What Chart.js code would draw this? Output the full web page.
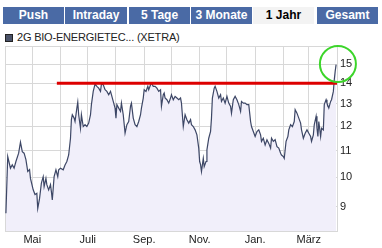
<!DOCTYPE html>
<html>
<head>
<meta charset="utf-8">
<script src="https://cdn.jsdelivr.net/npm/chart.js@4.4.0/dist/chart.umd.min.js"></script>
<style>
body { margin: 0; width: 382px; height: 248px; background: #fff; overflow: hidden; position: relative; font-family: "Liberation Sans", Arial, sans-serif; }
.tab { position: absolute; top: 7px; height: 17px; width: 61px; background: #4a6aa5; color: #fff; font-weight: bold; font-size: 12px; line-height: 17px; text-align: center; }
.tab.active { background: #f3f3f3; color: #000; }
.legend { position: absolute; left: 5px; top: 30px; font-size: 11px; letter-spacing: -0.2px; color: #222; line-height: 14px; }
.legend span { display: inline-block; width: 6px; height: 6px; background: #4a5268; border: 1px solid #222; margin-right: 4px; vertical-align: -1px; }
#wrap { position: absolute; left: 0; top: 42px; width: 382px; height: 206px; }
</style>
</head>
<body>
<div class="tab" style="left:3px">Push</div>
<div class="tab" style="left:65px;width:62px">Intraday</div>
<div class="tab" style="left:129px">5 Tage</div>
<div class="tab" style="left:191px">3 Monate</div>
<div class="tab active" style="left:253px">1 Jahr</div>
<div class="tab" style="left:317px">Gesamt</div>
<div class="legend"><span></span>2G BIO-ENERGIETEC... (XETRA)</div>
<div id="wrap"><canvas id="chart"></canvas></div>
<script>
// Kursdaten: Tage seit 1. April, Schlusskurse (EUR)
const priceDays = [1, 3, 6, 8, 10, 12, 15, 17, 19, 21, 23, 25, 27, 28, 31, 33, 35, 36, 38, 40,
    42, 43, 45, 46, 48, 50, 51, 52, 53, 54, 56, 58, 59, 61, 64, 66, 68, 70, 72, 73,
    74, 76, 77, 79, 80, 81, 83, 84, 86, 88, 90, 92, 94, 95, 97, 99, 101, 103, 105, 106,
    108, 110, 112, 114, 116, 117, 119, 121, 122, 123, 125, 127, 128, 130, 132, 134, 136, 138, 139, 141,
    143, 145, 147, 149, 150, 152, 153, 155, 157, 158, 160, 161, 163, 165, 167, 169, 171, 172, 174, 175,
    176, 178, 180, 182, 183, 185, 187, 189, 191, 193, 194, 196, 198, 200, 202, 204, 205, 207, 209, 211,
    213, 214, 215, 216, 218, 219, 221, 222, 224, 226, 227, 228, 230, 231, 233, 235, 237, 238, 240, 242,
    244, 246, 248, 249, 251, 253, 255, 257, 259, 260, 262, 264, 266, 268, 270, 271, 273, 275, 277, 279,
    281, 282, 284, 286, 288, 290, 292, 293, 295, 297, 299, 301, 303, 304, 306, 307, 309, 311, 312, 314,
    316, 318, 319, 321, 323, 325, 326, 328, 330, 332, 334, 336, 337, 339, 340, 342, 343, 344, 345, 347,
    348, 350, 351, 353, 354, 356, 358, 359, 361, 362, 363, 364];
const prices = [8.79, 10.77, 10.33, 10.46, 10.33, 10.58, 10.90, 11.34, 10.96, 10.90, 10.65, 10.21, 10.28, 9.96, 9.56, 9.40, 9.44, 8.94, 9.27, 9.79,
    10.02, 9.67, 9.96, 9.74, 9.56, 9.74, 9.50, 9.22, 9.61, 10.02, 10.27, 10.02, 10.27, 10.33, 10.27, 10.45, 10.58, 10.83, 11.50, 12.29,
    12.51, 12.36, 12.21, 12.81, 13.09, 12.51, 11.92, 12.51, 11.99, 12.07, 11.99, 12.14, 12.51, 12.97, 13.60, 13.96, 13.85, 13.76, 13.60, 13.96,
    13.93, 13.68, 13.60, 13.44, 13.60, 13.44, 13.12, 12.81, 12.36, 12.97, 12.81, 12.66, 13.04, 12.51, 11.71, 12.07, 12.21, 12.90, 13.04, 12.36,
    12.07, 11.99, 12.21, 12.51, 12.81, 13.28, 13.68, 13.60, 13.85, 13.68, 13.93, 14.01, 13.85, 13.85, 13.76, 13.60, 13.68, 12.89, 13.44, 13.52,
    13.28, 13.20, 13.04, 13.28, 13.44, 13.20, 13.36, 13.28, 13.20, 13.28, 13.04, 11.99, 12.51, 12.29, 12.14, 12.29, 12.07, 11.99, 11.85, 11.64,
    11.10, 10.58, 10.46, 10.21, 10.70, 10.39, 10.58, 11.03, 11.50, 11.78, 12.36, 13.28, 13.76, 13.85, 13.60, 13.28, 13.44, 13.12, 13.28, 13.04,
    13.36, 13.04, 12.89, 12.58, 13.20, 13.36, 13.20, 12.97, 12.66, 13.12, 13.04, 13.04, 12.97, 12.97, 12.21, 11.99, 11.78, 11.57, 11.78, 11.85,
    11.64, 11.37, 11.50, 11.23, 11.44, 11.29, 11.10, 11.50, 11.37, 11.44, 11.16, 11.10, 10.90, 10.83, 10.77, 10.70, 11.37, 11.57, 11.85, 12.07,
    11.99, 12.21, 12.74, 12.58, 12.36, 12.14, 11.85, 11.50, 11.71, 11.85, 11.71, 11.57, 11.37, 11.64, 12.07, 12.44, 11.92, 11.57, 12.21, 11.57,
    11.92, 11.85, 12.97, 13.20, 13.04, 12.81, 13.12, 13.20, 13.60, 14.18, 14.61, 14.97];

// Widerstandslinie und Markierung
const resistanceLevel = 14;
const resistanceFrom = 57;
const resistanceTo = 365;
const circleDay = 366;
const circleValue = 15;

// Achsen
const monthStarts = [0, 30, 61, 91, 122, 153, 183, 214, 244, 275, 306, 334, 365];
const monthLabels = ['', 'Mai', '', 'Juli', '', 'Sep.', '', 'Nov.', '', 'Jan.', '', 'März', ''];
const yGridValues = [9, 10, 11, 12, 13, 14, 15, 16];
const yTickLabels = [9, 10, 11, 12, 13, 14, 15];
const yMin = 8.25;
const yMax = 16;

const gridColor = '#d8d8d8';

new Chart(document.getElementById('chart'), {
    type: 'line',
    data: {
        datasets: [{
            data: priceDays.map((d, i) => ({ x: d, y: prices[i] })),
            borderColor: '#3d4766',
            borderWidth: 1.2,
            backgroundColor: '#f1effa',
            fill: 'start',
            pointRadius: 0,
            tension: 0,
            order: 2
        }, {
            data: [{ x: resistanceFrom, y: resistanceLevel }, { x: resistanceTo, y: resistanceLevel }],
            borderColor: '#dd0000',
            borderWidth: 3,
            pointRadius: 0,
            fill: false,
            order: 1
        }, {
            type: 'bubble',
            data: [{ x: circleDay, y: circleValue, r: 18 }],
            borderColor: '#3cd52a',
            borderWidth: 2,
            backgroundColor: 'rgba(0,0,0,0)',
            clip: false,
            order: 0
        }]
    },
    options: {
        responsive: true,
        maintainAspectRatio: false,
        animation: false,
        events: [],
        layout: { autoPadding: false, padding: { left: 5, top: 4, right: 0, bottom: 0 } },
        plugins: {
            legend: { display: false },
            tooltip: { enabled: false }
        },
        scales: {
            x: {
                type: 'linear',
                min: 0,
                max: 365,
                afterBuildTicks: axis => { axis.ticks = monthStarts.map(v => ({ value: v })); },
                afterFit: axis => {
                    axis.height = 17;
                    axis.paddingLeft = 0;
                    axis.paddingRight = 0;
                },
                ticks: {
                    autoSkip: false,
                    maxRotation: 0,
                    padding: 2,
                    color: '#222',
                    font: { family: 'Liberation Sans', size: 11 },
                    callback: (v, i) => monthLabels[i]
                },
                grid: { color: gridColor, drawTicks: false },
                border: { color: gridColor }
            },
            y: {
                type: 'logarithmic',
                position: 'right',
                min: yMin,
                max: yMax,
                afterBuildTicks: axis => { axis.ticks = yGridValues.map(v => ({ value: v })); },
                afterFit: axis => {
                    axis.width = 45;
                    axis.paddingTop = 0;
                    axis.paddingBottom = 0;
                },
                ticks: {
                    padding: 3,
                    color: '#222',
                    font: { family: 'Liberation Sans', size: 11 },
                    callback: v => yTickLabels.includes(v) ? String(v) : ''
                },
                grid: { color: gridColor, drawTicks: false },
                border: { color: gridColor }
            }
        }
    }
});
</script>
</body>
</html>
